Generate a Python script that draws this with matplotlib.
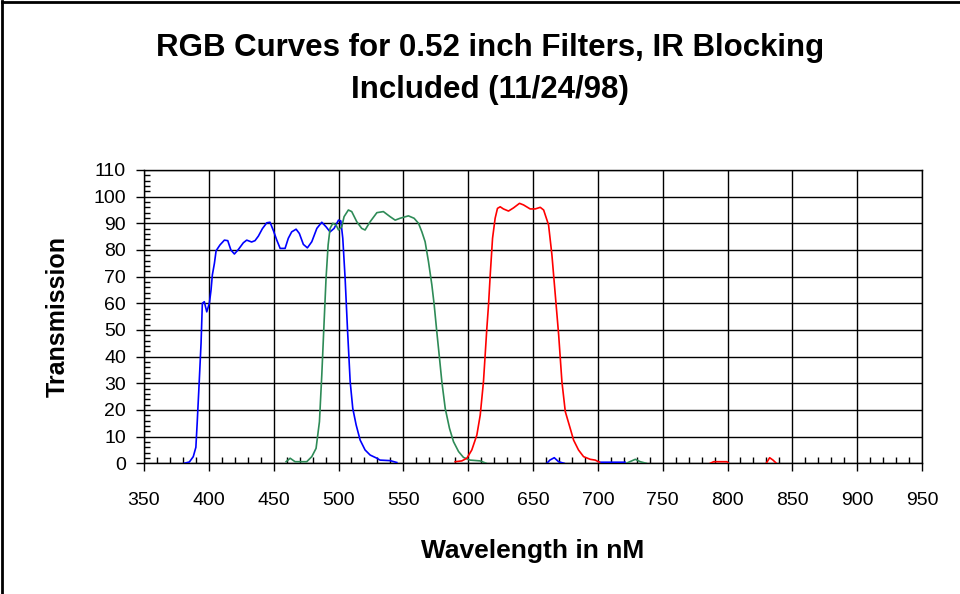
import numpy as np
import matplotlib
matplotlib.use('Agg')
import matplotlib.pyplot as plt
from matplotlib.ticker import MultipleLocator
from matplotlib.lines import Line2D

plt.rcParams['font.family'] = ['Liberation Sans', 'DejaVu Sans']

nan = np.nan

# blue filter (segments separated by nan)
blue_nm = [381, 385, 388, 390, 391, 392.4, 394, 395, 396.5, 398.4, 400.4, 401.7, 402.7, 404.3,
           405.6, 408.6, 412, 414.6, 417, 419.7, 422.8, 426.6, 429.2, 433, 435.6, 438.2, 441.3,
           444.7, 447.2, 450, 452.4, 455, 458.8, 461.3, 463.9, 467.3, 469.8, 472.9, 476, 479.4,
           483.3, 487.1, 490.4, 493.5, 496.6, 500, 501.8, 503.3, 505.1, 506.9, 509, 511, 513.6,
           516.7, 520.5, 524.4, 529.6, 532, 539.8, 545,
           nan, 660.7, 663, 666.4, 669.7, 674,
           nan, 701, 721]
blue_t = [0, 0.5, 2.5, 6, 15, 28.7, 45, 60, 60.6, 56.8, 60, 65, 70.6, 75,
          79.7, 81.9, 83.7, 83.5, 80, 78.5, 80.2, 82.7, 83.7, 83, 83.5, 85.2, 88,
          90.2, 90.4, 87, 83.7, 80.6, 80.6, 84.4, 86.8, 87.8, 86.2, 82.1, 80.8, 83.1,
          88.1, 90.4, 88.7, 86.8, 88.1, 91.2, 90.9, 84.4, 69.4, 50.6, 30.6, 20.6, 14.4,
          8.7, 5, 3.1, 1.9, 1.2, 1, 0.3,
          nan, 0, 1.2, 2.1, 0.6, 0,
          nan, 0.4, 0.4]

# green filter
green_nm = [459.6, 462.7, 466.5, 475.5, 479.4, 482.7, 485.3, 487.1, 488.9, 490.4, 492, 493.5,
            495.6, 498.1, 500, 502.5, 504.3, 507.6, 510.2, 514.1, 517.9, 520.5, 524.4, 529.6,
            534.6, 539.8, 543.7, 547.5, 553.9, 558.3, 561.7, 564.3, 566.8, 569.4, 572, 573.8,
            575.8, 577.9, 579.7, 582.3, 585.6, 588.7, 592.6, 596.4, 601.5, 609.3, 613.9,
            nan, 721.9, 728.9, 732.7, 737.3]
green_t = [0.6, 1.9, 0.6, 0.6, 2.5, 5.6, 15.6, 33, 53, 69.4, 81.9, 88.1,
           90, 89.4, 87.5, 88.7, 92.5, 95, 94.4, 90.6, 88.1, 87.5, 90.6, 94,
           94.4, 92.5, 91.2, 91.9, 92.8, 91.9, 90, 86.8, 83.1, 75.6, 66.9, 59.4,
           49.4, 39.4, 30.6, 20.6, 13.1, 8.1, 4.4, 2.2, 1.2, 0.9, 0,
           nan, 0, 1.5, 0.6, 0]

# red filter
red_nm = [590, 595.1, 599, 602.8, 606.7, 609.3, 611.8, 614.4, 615.7, 617, 618.8, 620.8, 622.6,
          624.7, 627.2, 631.1, 635, 639.6, 642.7, 647.8, 651.7, 655.6, 658.2, 662, 664.6, 667.2,
          669.8, 672.3, 674.9, 678.7, 681.3, 685.1, 689, 694.1, 698, 701.3,
          nan, 786.7, 789.3, 799.6, 800.8,
          nan, 829.9, 832.5, 835.1, 837.7]
red_t = [0.6, 0.9, 1.9, 5, 10.6, 18.1, 30.6, 50.6, 59.4, 70.6, 84.4, 91.9, 95.6,
         96.2, 95.4, 94.6, 95.8, 97.5, 96.9, 95.4, 95.4, 96, 95, 89.4, 78.1, 63.1,
         48.1, 30.6, 19.4, 13.1, 8.7, 5, 2.5, 1.5, 1.2, 0.4,
         nan, 0, 0.6, 0.6, 0,
         nan, 0, 2.1, 1.2, 0]

fig = plt.figure(figsize=(9.6, 5.94), dpi=100)
ax = fig.add_axes([144/960, 1 - 463.3/594, (922-144)/960, (463.3-170)/594])

ax.plot(blue_nm, blue_t, color='#0000FF', lw=1.2, zorder=3)
ax.plot(green_nm, green_t, color='#2E8B57', lw=1.2, zorder=3)
ax.plot(red_nm, red_t, color='#FF0000', lw=1.2, zorder=3)

ax.set_xlim(350, 950)
ax.set_ylim(0, 110)
ax.xaxis.set_major_locator(MultipleLocator(50))
ax.xaxis.set_minor_locator(MultipleLocator(10))
ax.yaxis.set_major_locator(MultipleLocator(10))
ax.yaxis.set_minor_locator(MultipleLocator(2))
ax.grid(True, which='major', color='black', lw=1.0, zorder=1)
ax.set_axisbelow(True)
for s in ax.spines.values():
    s.set_linewidth(1.0)
    s.set_color('black')

ax.tick_params(which='major', direction='out', length=6, width=1.0, labelsize=14, color='black')
ax.tick_params(which='minor', direction='in', length=4.5, width=1.0, color='black')
ax.tick_params(axis='x', which='major', pad=15)
ax.tick_params(axis='y', which='major', pad=7)

ax.set_xlabel('Wavelength in nM', fontsize=19, fontweight='bold', labelpad=21)
ax.set_ylabel('Transmission', fontsize=18, fontweight='bold', labelpad=17)

fig.text(0.51, 1 - 48/594, 'RGB Curves for 0.52 inch Filters, IR Blocking',
         ha='center', va='center', fontsize=22.5, fontweight='bold')
fig.text(0.51, 1 - 90/594, 'Included (11/24/98)',
         ha='center', va='center', fontsize=22.5, fontweight='bold')

# chart frame (only left and top edges visible)
fig.add_artist(Line2D([0.002, 0.002], [0, 0.998], color='black', lw=2, transform=fig.transFigure))
fig.add_artist(Line2D([0.002, 1], [0.997, 0.997], color='black', lw=2, transform=fig.transFigure))

fig.savefig('out.png', dpi=100)
